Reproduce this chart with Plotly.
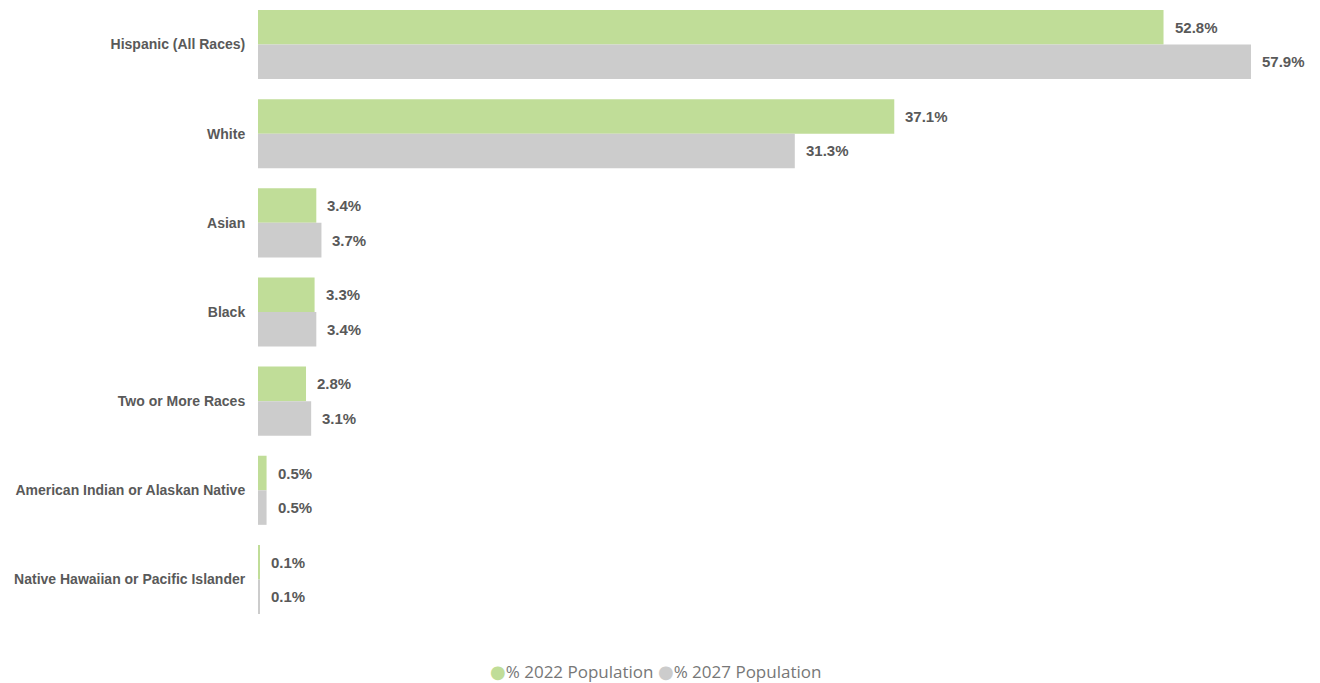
import plotly.graph_objects as go

categories = [
    "Hispanic (All Races)",
    "White",
    "Asian",
    "Black",
    "Two or More Races",
    "American Indian or Alaskan Native",
    "Native Hawaiian or Pacific Islander",
]
pop_2022 = [52.8, 37.1, 3.4, 3.3, 2.8, 0.5, 0.1]
pop_2027 = [57.9, 31.3, 3.7, 3.4, 3.1, 0.5, 0.1]
series_names = ["% 2022 Population", "% 2027 Population"]
series_colors = ["#C0DD98", "#CCCCCC"]

W, H = 1320, 683
left, right, top, bottom = 258, 60, 0, 59
plot_w = W - left - right
plot_h = H - top - bottom
px_per_unit = 17.15
x_max = plot_w / px_per_unit
bargap = 0.225
bar_px = plot_h / len(categories) * (1 - bargap) / 2

label_font = dict(family="Liberation Sans, Arial, sans-serif", size=15,
                  color="#595959", weight="bold")

fig = go.Figure()
for name, vals, color in zip(series_names, [pop_2022, pop_2027], series_colors):
    fig.add_trace(go.Bar(
        y=categories, x=vals, orientation="h", name=name,
        marker=dict(color=color, line=dict(width=0)),
        showlegend=False, hoverinfo="x+y",
    ))

# value labels beside each bar (2022 above, 2027 below within a group)
annotations = []
for vals, shift in [(pop_2022, bar_px / 2), (pop_2027, -bar_px / 2)]:
    for cat, v in zip(categories, vals):
        annotations.append(dict(
            x=v, y=cat, xref="x", yref="y", text=f"{v:.1f}%",
            showarrow=False, xanchor="left", yanchor="middle",
            xshift=9, yshift=shift, font=label_font,
        ))

# legend row with round swatches
legend_text = " ".join(
    f'<span style="color:{c};font-family:DejaVu Sans;font-size:18px">●</span>{n}'
    for n, c in zip(series_names, series_colors)
)
annotations.append(dict(
    x=(655 - left) / plot_w, y=(H - bottom - 671) / plot_h,
    xref="paper", yref="paper", xanchor="center", yanchor="middle",
    text=legend_text, showarrow=False,
    font=dict(family="Open Sans, sans-serif", size=17, color="#777777"),
))

fig.update_layout(
    width=W, height=H,
    margin=dict(l=left, r=right, t=top, b=bottom, pad=0, autoexpand=False),
    paper_bgcolor="white", plot_bgcolor="white",
    barmode="group", bargap=bargap, bargroupgap=0,
    showlegend=False,
    xaxis=dict(range=[0, x_max], visible=False, fixedrange=True),
    yaxis=dict(
        autorange="reversed", showgrid=False, showline=False, zeroline=False,
        ticks="outside", ticklen=9, tickcolor="rgba(0,0,0,0)",
        tickfont=dict(family="Liberation Sans, Arial, sans-serif", size=14,
                      color="#595959", weight="bold"),
    ),
    annotations=annotations,
    font=dict(family="Liberation Sans, Arial, sans-serif"),
)

fig.write_html("out.html")
